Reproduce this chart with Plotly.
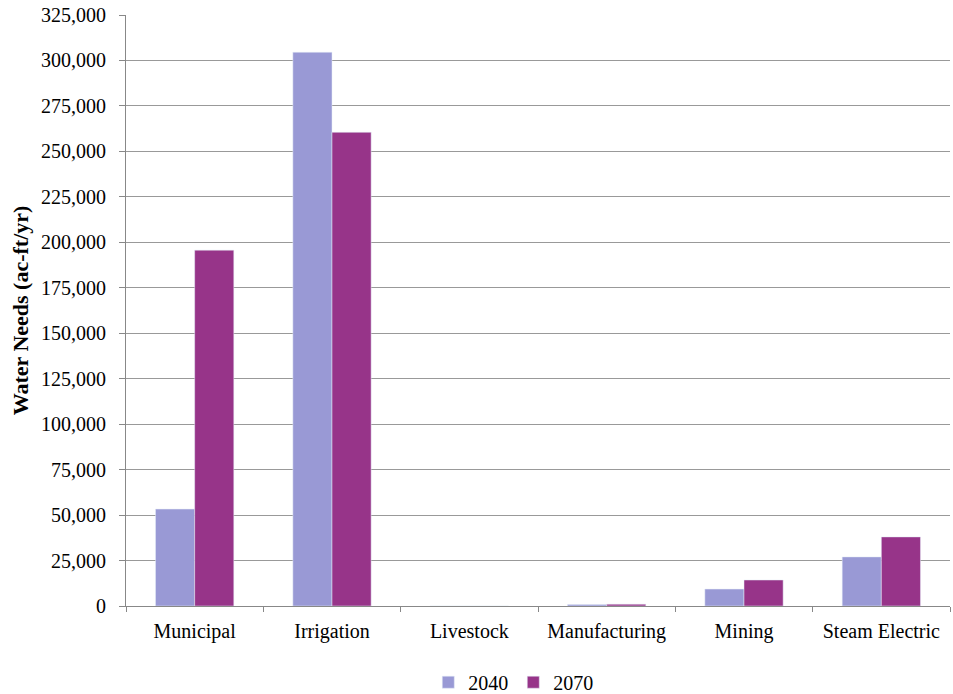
import plotly.graph_objects as go

categories = ["Municipal", "Irrigation", "Livestock", "Manufacturing", "Mining", "Steam Electric"]
needs_2040 = [53300, 304500, 0, 800, 9300, 27000]
needs_2070 = [195700, 260500, 0, 1000, 14300, 38000]
y_ticks = list(range(0, 325001, 25000))
y_labels = [f"{v:,}" for v in y_ticks]

font = "Times New Roman"

fig = go.Figure()
fig.add_trace(go.Bar(name="2040", x=categories, y=needs_2040, marker=dict(color="#9999D5")))
fig.add_trace(go.Bar(name="2070", x=categories, y=needs_2070, marker=dict(color="#973489")))

fig.update_layout(
    width=953, height=694,
    margin=dict(l=126, r=3, t=15, b=88),
    paper_bgcolor="white", plot_bgcolor="white",
    barmode="group", bargap=0.43, bargroupgap=0,
    font=dict(family=font, size=20, color="black"),
    legend=dict(orientation="h", x=0.47, xanchor="center", xref="paper",
                y=0.017, yanchor="middle", yref="container",
                font=dict(size=20, family=font), itemwidth=30, traceorder="normal"),
    xaxis=dict(showline=True, linecolor="#888888", linewidth=1, ticks="outside",
               tickson="boundaries", ticklen=5, tickcolor="#888888",
               tickfont=dict(size=20, family=font), ticklabelstandoff=7, showgrid=False),
    yaxis=dict(range=[0, 325000], tickvals=y_ticks, ticktext=y_labels,
               showline=True, linecolor="#888888", linewidth=1, ticks="outside",
               ticklen=6, tickcolor="#888888", showgrid=True, gridcolor="#999999",
               tickfont=dict(size=20, family=font), ticklabelstandoff=9,
               title=dict(text="<b>Water Needs (ac-ft/yr)</b>", font=dict(size=22, family=font), standoff=6)),
)

fig.write_html("out.html")
